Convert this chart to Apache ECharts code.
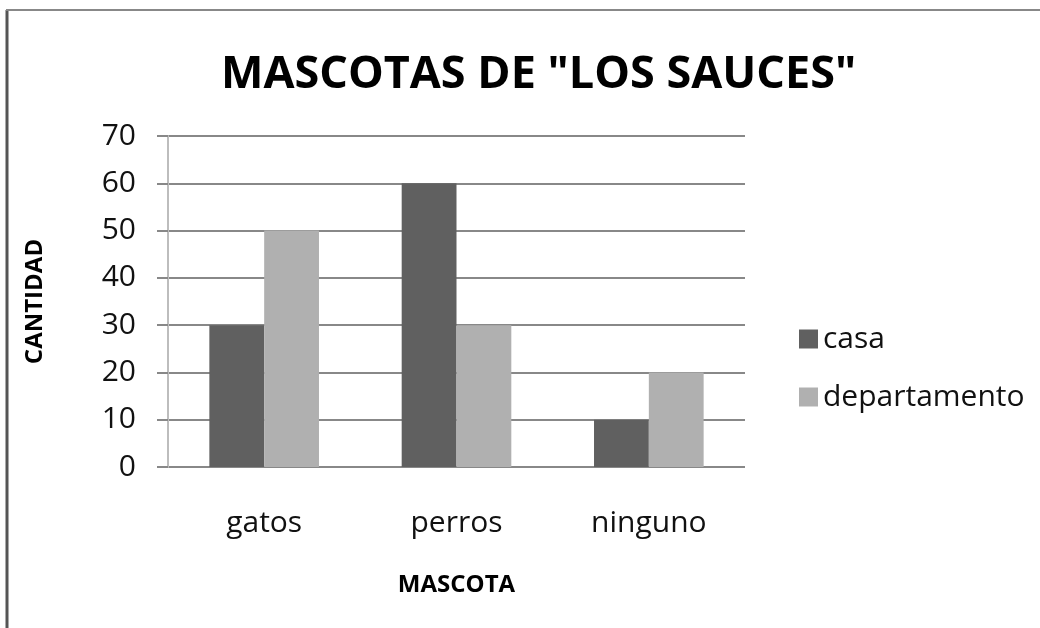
<!DOCTYPE html>
<html>
<head>
<meta charset="utf-8">
<title>Mascotas</title>
<script src="https://cdn.jsdelivr.net/npm/echarts@6/dist/echarts.min.js"></script>
<style>
html,body{margin:0;padding:0;background:#fff;}
#chart{width:1040px;height:628px;}
</style>
</head>
<body>
<div id="chart"></div>
<script>
var categories = ['gatos', 'perros', 'ninguno'];
var casa = [30, 60, 10];
var departamento = [50, 30, 20];
var yTicks = [0, 10, 20, 30, 40, 50, 60, 70];

var font = '"Open Sans", "Noto Sans", sans-serif';
var chart = echarts.init(document.getElementById('chart'));
var option = {
	animation: false,
	backgroundColor: '#fff',
	color: ['#606060', '#b0b0b0'],
	title: {
		text: 'MASCOTAS DE "LOS SAUCES"',
		left: 216,
		top: 48,
		textStyle: {fontFamily: font, fontSize: 45, fontWeight: 'bold', color: '#000'}
	},
	legend: {
		orient: 'vertical',
		left: 794,
		top: 319,
		itemWidth: 19,
		itemHeight: 19,
		itemGap: 28,
		icon: 'rect',
		data: ['casa', 'departamento'],
		textStyle: {fontFamily: font, fontSize: 30, color: '#111'}
	},
	grid: {left: 168, right: 295, top: 136, bottom: 161},
	xAxis: {
		type: 'category',
		data: categories,
		name: 'MASCOTA',
		nameLocation: 'middle',
		nameGap: 106,
		nameTextStyle: {fontFamily: font, fontSize: 24, fontWeight: 'bold', color: '#000'},
		axisLine: {show: false},
		axisTick: {show: false},
		axisLabel: {fontFamily: font, fontSize: 30, color: '#111', margin: 41}
	},
	yAxis: {
		type: 'value',
		min: yTicks[0],
		max: yTicks[yTicks.length - 1],
		interval: 10,
		name: 'CANTIDAD',
		nameLocation: 'middle',
		nameRotate: 90,
		nameGap: 121,
		nameTextStyle: {fontFamily: font, fontSize: 24, fontWeight: 'bold', color: '#000'},
		axisLine: {show: true, lineStyle: {color: '#bdbdbd', width: 2}},
		axisTick: {show: true, length: 11, lineStyle: {color: '#888', width: 2}},
		axisLabel: {fontFamily: font, fontSize: 30, color: '#111', margin: 32},
		splitLine: {show: true, lineStyle: {color: '#888', width: 2}}
	},
	series: [
		{name: 'casa', type: 'bar', data: casa, barGap: '0%', barCategoryGap: '43%'},
		{name: 'departamento', type: 'bar', data: departamento, barGap: '0%', barCategoryGap: '43%'}
	],
	graphic: [
		{type: 'line', shape: {x1: 7, y1: 10, x2: 7, y2: 628}, style: {stroke: '#555', lineWidth: 3}},
		{type: 'line', shape: {x1: 6, y1: 10, x2: 1040, y2: 10}, style: {stroke: '#888', lineWidth: 2}}
	]
};
chart.setOption(option);
</script>
</body>
</html>
